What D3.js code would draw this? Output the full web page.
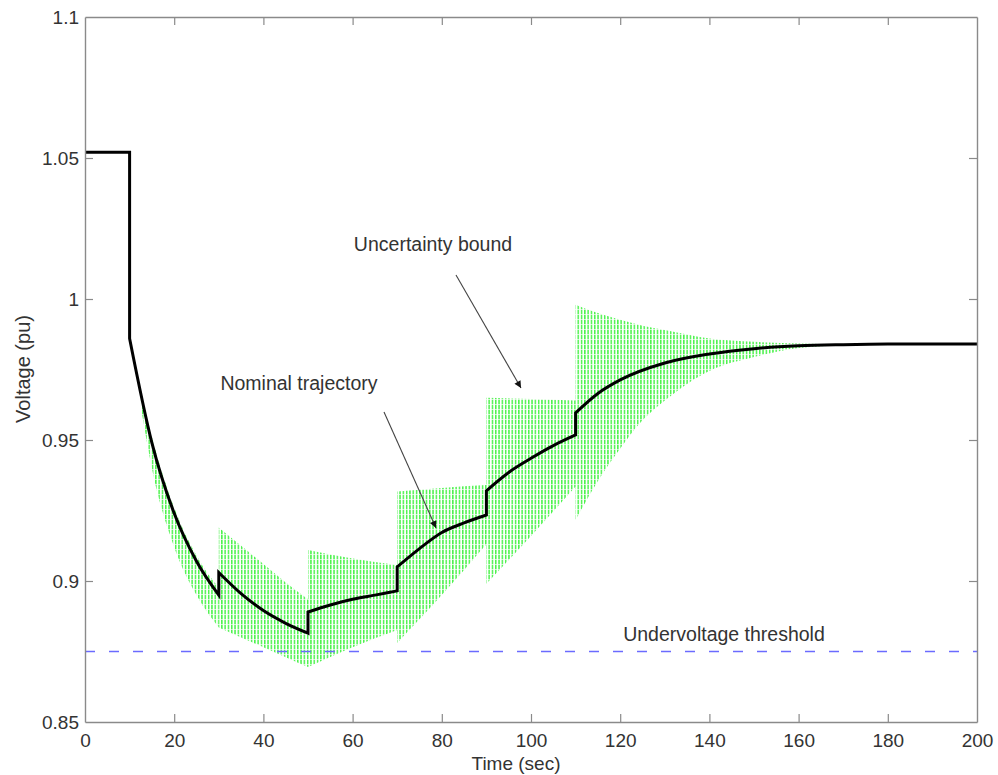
<!DOCTYPE html>
<html>
<head>
<meta charset="utf-8">
<script src="https://cdn.jsdelivr.net/npm/d3@7/dist/d3.min.js"></script>
<style>
  html, body { margin: 0; padding: 0; background: #fff; }
  svg { display: block; font-family: "Liberation Sans", Arial, Helvetica, sans-serif; }
</style>
</head>
<body>
<svg id="chart" width="998" height="775"></svg>
<script>
// ---------------- data ----------------
const xTicks = [0, 20, 40, 60, 80, 100, 120, 140, 160, 180, 200];
const yTicks = [0.85, 0.9, 0.95, 1, 1.05, 1.1];
const yTickLabels = ["0.85", "0.9", "0.95", "1", "1.05", "1.1"];

// nominal trajectory (repeated time = step change of tap)
const nominalTime = [0, 10,
  10, 15, 20, 25, 30,
  30, 35, 40, 45, 50,
  50, 55, 60, 65, 70,
  70, 75, 80, 85, 90,
  90, 95, 100, 105, 110,
  110, 115, 120, 130, 140, 150, 160, 170, 180, 200];
const nominalVolt = [1.052, 1.052,
  0.986, 0.949, 0.924, 0.907, 0.895,
  0.903, 0.8955, 0.8895, 0.885, 0.8815,
  0.889, 0.8915, 0.8935, 0.895, 0.8965,
  0.905, 0.9115, 0.9172, 0.9206, 0.9234,
  0.932, 0.9385, 0.9435, 0.948, 0.9518,
  0.9596, 0.9665, 0.9713, 0.9773, 0.9805, 0.9824, 0.9834, 0.9838, 0.984, 0.984];

// uncertainty bound (repeated time = new segment)
const boundTime = [12.5, 15, 20, 25, 30,
  30, 35, 40, 45, 50,
  50, 60, 70,
  70, 80, 90,
  90, 100, 110,
  110, 115, 120, 125, 130, 140, 150, 160, 170, 176];
const boundUpper = [0.967, 0.951, 0.926, 0.909, 0.8975,
  0.919, 0.9125, 0.906, 0.8995, 0.8935,
  0.911, 0.908, 0.9057,
  0.9317, 0.933, 0.934,
  0.965, 0.9645, 0.964,
  0.998, 0.995, 0.9926, 0.9905, 0.989, 0.986, 0.9848, 0.9842, 0.984, 0.984];
const boundLower = [0.962, 0.94, 0.912, 0.895, 0.8835,
  0.8835, 0.88, 0.8765, 0.873, 0.8695,
  0.8695, 0.8765, 0.8826,
  0.878, 0.895, 0.913,
  0.899, 0.916, 0.9335,
  0.9216, 0.9355, 0.947, 0.957, 0.964, 0.9745, 0.9794, 0.9826, 0.9836, 0.984];

const thresholdValue = 0.875;

const annotations = [
  { text: "Uncertainty bound", x: 433, y: 251, from: [456, 275], to: [521, 388] },
  { text: "Nominal trajectory", x: 299, y: 390, from: [384, 412], to: [436, 528] },
  { text: "Undervoltage threshold", x: 724, y: 641 }
];

// ---------------- layout ----------------
const margin = { left: 85, right: 21, top: 17, bottom: 53 };
const W = 998, H = 775;
const svg = d3.select("#chart");
const x = d3.scaleLinear().domain([0, 200]).range([margin.left, W - margin.right]);
const y = d3.scaleLinear().domain([0.85, 1.1]).range([H - margin.bottom, margin.top]);

const defs = svg.append("defs");
defs.append("clipPath").attr("id", "plotClip")
  .append("rect")
  .attr("x", x(0)).attr("y", y(1.1))
  .attr("width", x(200) - x(0)).attr("height", y(0.85) - y(1.1));

const pat = defs.append("pattern").attr("id", "hatch")
  .attr("patternUnits", "userSpaceOnUse")
  .attr("width", 3.3).attr("height", 5);
pat.append("rect").attr("x", 0).attr("y", 0).attr("width", 1.5).attr("height", 4).attr("fill", "#4cf24c");
pat.append("rect").attr("x", 0).attr("y", 4).attr("width", 1.5).attr("height", 1).attr("fill", "#c2fbc2");

// split helper: new segment wherever time repeats
function splitSegments(t, cols) {
  const segs = [];
  let cur = [];
  for (let i = 0; i < t.length; i++) {
    if (i > 0 && t[i] === t[i - 1]) { segs.push(cur); cur = []; }
    const row = { t: t[i] };
    for (const k in cols) row[k] = cols[k][i];
    cur.push(row);
  }
  segs.push(cur);
  return segs;
}

const plot = svg.append("g").attr("clip-path", "url(#plotClip)");

// uncertainty band
const bandSegs = splitSegments(boundTime, { up: boundUpper, lo: boundLower });
const area = d3.area()
  .x(d => x(d.t)).y0(d => y(d.lo)).y1(d => y(d.up))
  .curve(d3.curveMonotoneX);
plot.selectAll("path.band").data(bandSegs).join("path")
  .attr("class", "band")
  .attr("d", area)
  .attr("fill", "url(#hatch)");

// threshold
plot.append("line")
  .attr("x1", x(0)).attr("x2", x(200))
  .attr("y1", y(thresholdValue)).attr("y2", y(thresholdValue))
  .attr("stroke", "#6b6bff").attr("stroke-width", 1.5)
  .attr("stroke-dasharray", "10,14");

// nominal trajectory
const nomSegs = splitSegments(nominalTime, { v: nominalVolt });
const line = d3.line().x(d => x(d.t)).y(d => y(d.v)).curve(d3.curveMonotoneX);
let dPath = "";
nomSegs.forEach((s, i) => {
  let p = line(s);
  if (i > 0) p = "L" + p.slice(1);
  dPath += p;
});
plot.append("path")
  .attr("d", dPath)
  .attr("fill", "none")
  .attr("stroke", "#000")
  .attr("stroke-width", 3)
  .attr("stroke-linejoin", "miter");

// ---------------- axes ----------------
const axisColor = "#8a8a8a";
const tickLen = 8;
const gAx = svg.append("g");

const axB = d3.axisBottom(x).tickValues(xTicks).tickSizeInner(-tickLen).tickSizeOuter(0).tickPadding(12);
const axT = d3.axisTop(x).tickValues(xTicks).tickSizeInner(-tickLen).tickSizeOuter(0).tickFormat("");
const axL = d3.axisLeft(y).tickValues(yTicks).tickSizeInner(-tickLen).tickSizeOuter(0).tickPadding(6)
  .tickFormat((d, i) => yTickLabels[i]);
const axR = d3.axisRight(y).tickValues(yTicks).tickSizeInner(-tickLen).tickSizeOuter(0).tickFormat("");

function styleAxis(g) {
  g.select(".domain").attr("stroke", axisColor).attr("stroke-width", 1.4);
  g.selectAll(".tick line").attr("stroke", axisColor).attr("stroke-width", 1.2);
  g.selectAll(".tick text").attr("fill", "#333").style("font-size", "19px")
    .style("font-family", "'Liberation Sans', Arial, Helvetica, sans-serif");
}
gAx.append("g").attr("transform", `translate(0,${y(0.85)})`).call(axB).call(styleAxis);
gAx.append("g").attr("transform", `translate(0,${y(1.1)})`).call(axT).call(styleAxis);
gAx.append("g").attr("transform", `translate(${x(0)},0)`).call(axL).call(styleAxis);
gAx.append("g").attr("transform", `translate(${x(200)},0)`).call(axR).call(styleAxis);
// hide edge ticks overlapping the box
gAx.selectAll(".tick").filter(d => d === 0 || d === 200 || d === 0.85 || d === 1.1).select("line").remove();

// axis titles
svg.append("text")
  .attr("x", 516).attr("y", 770)
  .attr("text-anchor", "middle")
  .attr("fill", "#333").style("font-size", "19px")
  .text("Time (sec)");
svg.append("text")
  .attr("transform", `translate(30,369) rotate(-90)`)
  .attr("text-anchor", "middle")
  .attr("fill", "#333").style("font-size", "20px")
  .text("Voltage (pu)");

// annotations
defs.append("marker").attr("id", "arrowHead")
  .attr("viewBox", "0 0 10 10").attr("refX", 10).attr("refY", 5)
  .attr("markerWidth", 10).attr("markerHeight", 7).attr("markerUnits", "userSpaceOnUse")
  .attr("orient", "auto")
  .append("path").attr("d", "M0,0 L10,5 L0,10 Z").attr("fill", "#111");

annotations.forEach(a => {
  svg.append("text")
    .attr("x", a.x).attr("y", a.y)
    .attr("text-anchor", "middle")
    .attr("fill", "#333").style("font-size", "19.5px")
    .text(a.text);
  if (a.from) {
    svg.append("line")
      .attr("x1", a.from[0]).attr("y1", a.from[1])
      .attr("x2", a.to[0]).attr("y2", a.to[1])
      .attr("stroke", "#444").attr("stroke-width", 1.1)
      .attr("marker-end", "url(#arrowHead)");
  }
});
</script>
</body>
</html>
